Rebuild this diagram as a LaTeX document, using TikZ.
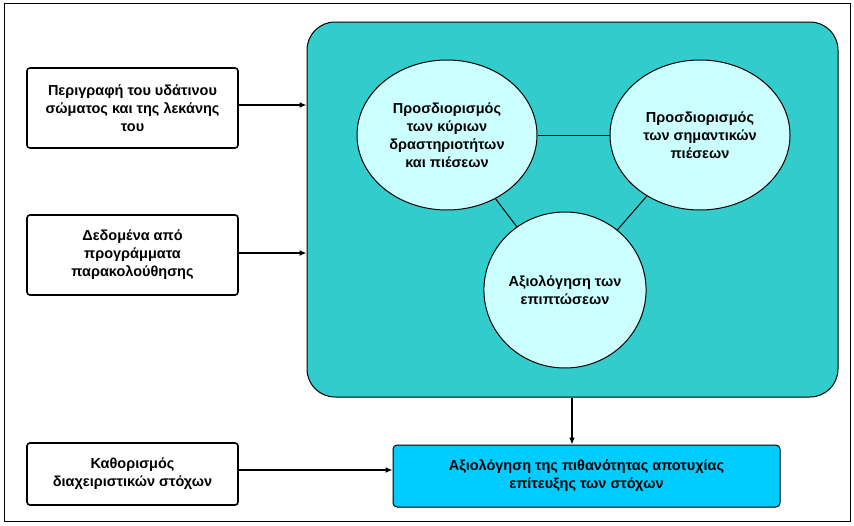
\documentclass[tikz,border=0pt]{standalone}
\usepackage{fontspec}
\setmainfont{Liberation Sans}
\usetikzlibrary{shapes.geometric,arrows.meta}
\begin{document}
\begin{tikzpicture}[x=1pt,y=-1pt,
 txt/.style={font=\bfseries\fontsize{14.5}{18}\selectfont,align=center,inner sep=1pt},
 lbox/.style={draw,line width=1.6pt,rounded corners=3pt,minimum width=211pt,minimum height=80pt,txt},
 circ/.style={ellipse,draw,line width=1pt,fill=cyanl,txt},
 arr/.style={-{Latex[length=7pt,width=6pt]},line width=1.6pt}]
\definecolor{teal1}{HTML}{33CCCC}
\definecolor{cyanl}{HTML}{CCFFFF}
\definecolor{blue1}{HTML}{00CCFF}
\useasboundingbox (0,0) rectangle (854,525);
\draw[line width=0.8pt] (4,3) rectangle (850,521);
\node[draw,line width=1pt,fill=teal1,rounded corners=28pt,minimum width=531pt,minimum height=375pt] (big) at (572.5,209.5) {};
\node[lbox] (a) at (132.5,108) {Περιγραφή του υδάτινου\\σώματος και της λεκάνης\\του};
\node[lbox] (b) at (132.5,255) {Δεδομένα από\\προγράμματα\\παρακολούθησης};
\node[lbox,minimum height=62pt] (c) at (132.5,474) {Καθορισμός\\διαχειριστικών στόχων};
\node[draw,line width=1pt,fill=blue1,rounded corners=4pt,minimum width=387pt,minimum height=62pt,txt] (d) at (586.5,476) {Αξιολόγηση της πιθανότητας αποτυχίας\\επίτευξης των στόχων};
\node[circ,minimum width=180pt,minimum height=150pt] (c1) at (447,135) {Προσδιορισμός\\των κύριων\\δραστηριοτήτων\\και πιέσεων};
\node[circ,minimum width=180pt,minimum height=150pt] (c2) at (700,135) {Προσδιορισμός\\των σημαντικών\\πιέσεων};
\node[circ,minimum width=162pt,minimum height=156pt] (c3) at (565,290) {Αξιολόγηση των\\επιπτώσεων};
\draw[line width=1pt] (c1) -- (c2);
\draw[line width=1pt] (c1) -- (c3);
\draw[line width=1pt] (c2) -- (c3);
\draw[arr] (a.east|-0,105) -- (big.west|-0,105);
\draw[arr] (b.east|-0,253) -- (big.west|-0,253);
\draw[arr] (c.east|-0,470) -- (d.west|-0,470);
\draw[arr] (big.south-|572,0) -- (d.north-|572,0);
\end{tikzpicture}
\end{document}
